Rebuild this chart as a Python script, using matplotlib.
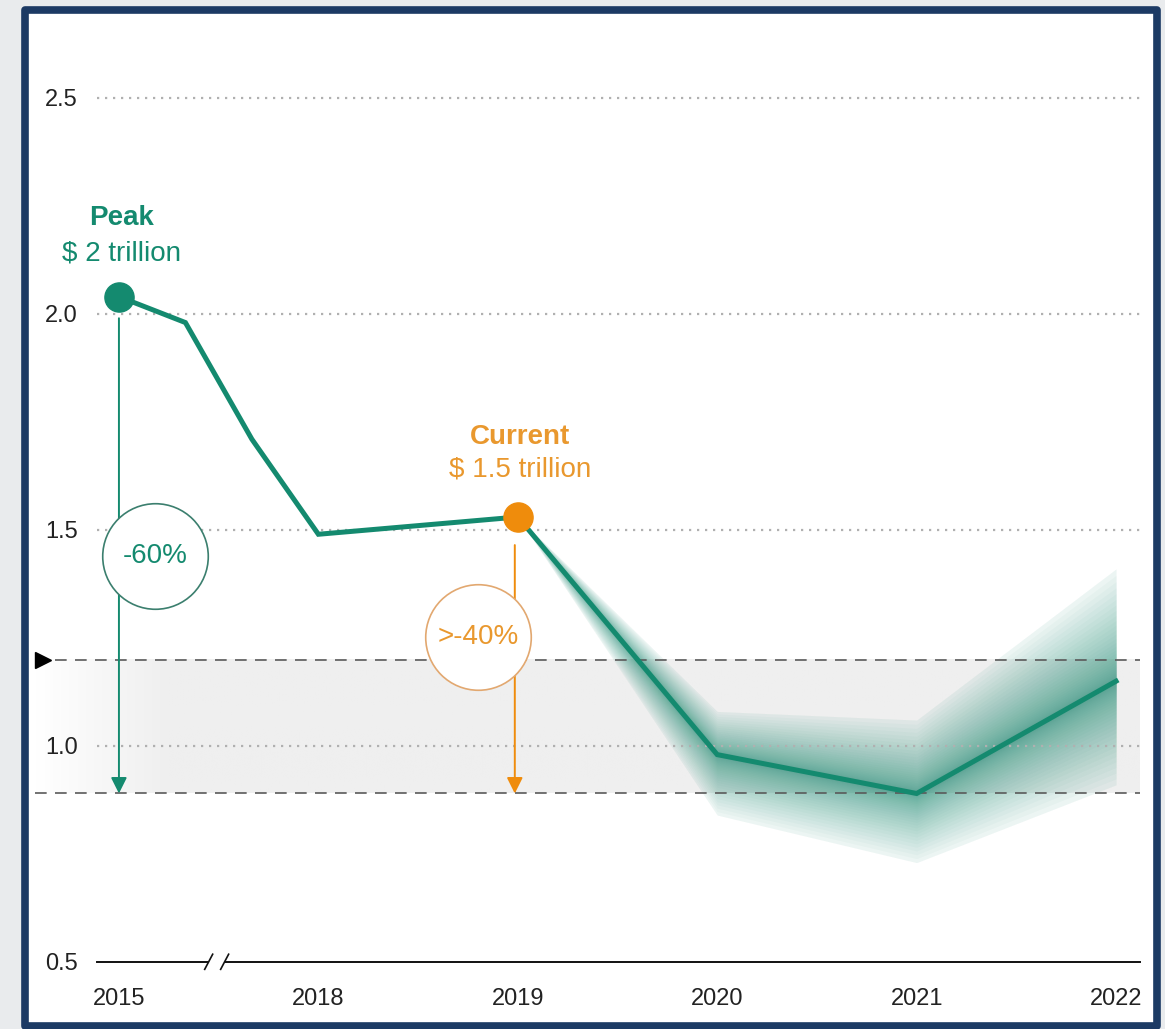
#!/usr/bin/env python3
"""Line chart: peak, current and projected range with a fading band."""
import numpy as np
import matplotlib
matplotlib.use('Agg')
import matplotlib.pyplot as plt
from matplotlib import font_manager
from matplotlib.colors import LinearSegmentedColormap
from matplotlib.patches import Rectangle

# data
years = [2015, 2016, 2017, 2018, 2019, 2020, 2021, 2022]
values = [2.04, 1.98, 1.71, 1.49, 1.53, 0.98, 0.89, 1.15]
band_years = [2019, 2020, 2021, 2022]
band_low = [1.53, 0.84, 0.73, 0.91]
band_high = [1.53, 1.08, 1.06, 1.41]
range_low, range_high = 0.89, 1.20
tick_years = [2015, 2018, 2019, 2020, 2021, 2022]
yticks = [0.5, 1.0, 1.5, 2.0, 2.5]
peak_year, current_year = 2015, 2019
peak_labels = ['Peak', '$ 2 trillion']
current_labels = ['Current', '$ 1.5 trillion']
peak_drop, current_drop = '-60%', '>-40%'

GREEN = '#148a6f'
ORANGE = '#ef8c0c'
ORANGE_TXT = '#e9982e'
NAVY = '#1c3a64'

names = {f.name for f in font_manager.fontManager.ttflist}
FONT = 'Liberation Sans Narrow' if 'Liberation Sans Narrow' in names else 'Liberation Sans'
plt.rcParams['font.family'] = [FONT, 'DejaVu Sans']


def xpos(y):
    # 2015-2018 squeezed into one step (axis break)
    return (y - 2015) / 3 if y <= 2018 else y - 2017


W, H = 1165, 1029
fig = plt.figure(figsize=(W / 100, H / 100), dpi=100)
fig.patch.set_facecolor('#e9ebed')
fig.add_artist(Rectangle((24.5 / W, 3.5 / H), 1132 / W, 1016 / H, transform=fig.transFigure,
                         facecolor='white', edgecolor=NAVY, linewidth=5.5, zorder=-1,
                         joinstyle='round'))

ax = fig.add_axes([97 / W, 67 / H, 1043 / W, 922 / H])
ax.set_facecolor('none')
x0, x1 = -0.11, 5.12
ax.set_xlim(x0, x1)
ax.set_ylim(0.5, 2.634)

# shaded target range
band_left = -0.42
grad = np.clip(np.linspace(0, 1, 400) / 0.12, 0, 1)[None, :]
cmap = LinearSegmentedColormap.from_list('g', ['#ffffff', '#efefef'])
ax.imshow(grad, cmap=cmap, aspect='auto', extent=(band_left, x1, range_low, range_high),
          zorder=0, clip_on=False, interpolation='bilinear')
for yv in (range_low, range_high):
    ln, = ax.plot([band_left, x1], [yv, yv], color='#5a5a5a', lw=1.2, zorder=3, clip_on=False)
    ln.set_dashes((7, 5))
ax.plot([-0.38], [range_high], marker='>', color='black', ms=11, clip_on=False, zorder=4)

# grid
ax.set_yticks(yticks)
ax.set_yticklabels([f'{v:.1f}' for v in yticks])
ax.yaxis.grid(True, linestyle=(0, (1.0, 2.6)), color='#b0b0b0', lw=1.6)
ax.set_axisbelow(False)
ax.set_xticks([xpos(y) for y in tick_years])
ax.set_xticklabels([str(y) for y in tick_years])
ax.tick_params(axis='y', length=0, pad=14, labelsize=17, labelcolor='#222222')
ax.tick_params(axis='x', length=0, pad=19, labelsize=17, labelcolor='#222222')
for s in ('top', 'right', 'left'):
    ax.spines[s].set_visible(False)
ax.spines['bottom'].set_color('#111111')
ax.spines['bottom'].set_linewidth(1.4)
ax.yaxis.get_gridlines()[0].set_visible(False)

# axis break "//"
bx = xpos(2015) + 0.49
ax.add_patch(Rectangle((bx - 0.04, 0.49), 0.08, 0.02, facecolor='white', edgecolor='none',
                       zorder=6, clip_on=False))
for dx in (-0.04, 0.04):
    ax.plot([bx + dx - 0.02, bx + dx + 0.02], [0.483, 0.518], color='#111111', lw=1.2,
            zorder=7, clip_on=False)

# projected band: layered fills, dark near the line, fading outward
bx_pos = [xpos(y) for y in band_years]
centre = np.array([values[years.index(y)] for y in band_years])
hi = np.array(band_high)
lo = np.array(band_low)
ax.fill_between(bx_pos, lo, hi, color=GREEN, alpha=0.045, lw=0, zorder=2)
for f in np.linspace(1.0, 0.03, 34) ** 2:
    ax.fill_between(bx_pos, centre - f * (centre - lo), centre + f * (hi - centre),
                    color=GREEN, alpha=0.03, lw=0, zorder=2)

# main line
ax.plot([xpos(y) for y in years], values, color=GREEN, lw=3.6, zorder=5,
        solid_joinstyle='miter')

# peak and current markers
peak_v = values[years.index(peak_year)]
cur_v = values[years.index(current_year)]
ax.plot(xpos(peak_year), peak_v, 'o', color=GREEN, ms=21, zorder=8)
ax.plot(xpos(current_year), cur_v, 'o', color=ORANGE, ms=21, zorder=8)

ax.text(xpos(peak_year) + 0.015, 2.222, peak_labels[0], ha='center', va='center',
        fontsize=20, fontweight='bold', color=GREEN)
ax.text(xpos(peak_year) + 0.015, 2.141, peak_labels[1], ha='center', va='center',
        fontsize=20, color=GREEN)
ax.text(xpos(current_year) + 0.01, 1.715, current_labels[0], ha='center', va='center',
        fontsize=20, fontweight='bold', color=ORANGE_TXT)
ax.text(xpos(current_year) + 0.01, 1.639, current_labels[1], ha='center', va='center',
        fontsize=20, color=ORANGE_TXT)

# drop arrows with circled percentages
arrow_kw = dict(arrowstyle='-|>', lw=1.4, mutation_scale=24, shrinkA=0, shrinkB=0)
ax.annotate('', xy=(xpos(peak_year), range_low), xytext=(xpos(peak_year), peak_v - 0.05),
            arrowprops=dict(color=GREEN, **arrow_kw), zorder=6)
ax.annotate('', xy=(xpos(current_year) - 0.015, range_low),
            xytext=(xpos(current_year) - 0.015, cur_v - 0.065),
            arrowprops=dict(color=ORANGE, **arrow_kw), zorder=6)

ax.plot(0.18, 1.44, 'o', ms=76, mfc='white', mec='#3b7f6e', mew=1.2, zorder=9)
ax.text(0.18, 1.44, peak_drop, ha='center', va='center', fontsize=20, color=GREEN, zorder=10)
ax.plot(1.80, 1.252, 'o', ms=76, mfc='white', mec='#e2a870', mew=1.2, zorder=9)
ax.text(1.80, 1.252, current_drop, ha='center', va='center', fontsize=20, color=ORANGE_TXT,
        zorder=10)

fig.savefig('out.png', dpi=100)
